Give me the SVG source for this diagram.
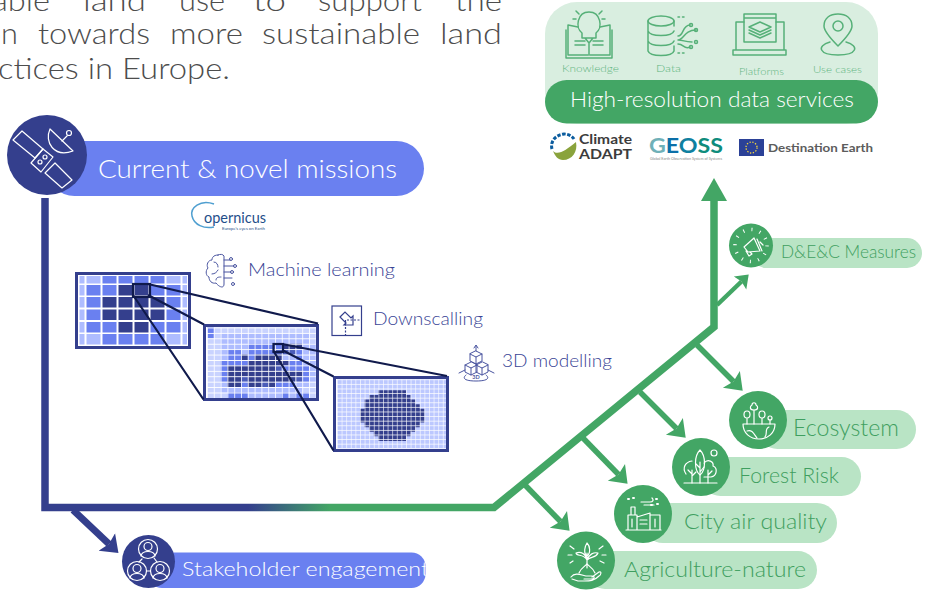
<svg xmlns="http://www.w3.org/2000/svg" width="931" height="590" viewBox="0 0 931 590">
<style>
text{font-family:"Lato","Liberation Sans",sans-serif;font-weight:300}
.body{font-size:29px;fill:#4d4d4d}
.blue{fill:#343f8d}.mid{fill:#6a80f0}.lite{fill:#b9e4c5}.grn{fill:#43a665}
.wt{fill:#fff}.gt{fill:#3f9f60}.bt{fill:#3a4596;font-size:18px}
.ws{fill:none;stroke:#fff;stroke-width:1.200;stroke-linecap:round;stroke-linejoin:round}
.gs{fill:none;stroke:#56b078;stroke-width:1.500;stroke-linecap:round;stroke-linejoin:round}
.bs{fill:none;stroke:#4a55a0;stroke-width:1;stroke-linecap:round;stroke-linejoin:round}
.tl{font-size:10.500px;fill:#5fb580}
.frame{fill:none;stroke:#343f8d;stroke-width:3}
.zoom{fill:none;stroke:#101a4c;stroke-width:2.200}
.cd{fill:#343f8d}.cm{fill:#6a80f0}.cl{fill:#aebcff}.cx{fill:#4b5cb8}.cp{fill:#c9d3ff}
</style>
<defs>
<linearGradient id="trunk" gradientUnits="userSpaceOnUse" x1="248" y1="0" x2="330" y2="0"><stop offset="0" stop-color="#343f8d"/><stop offset="1" stop-color="#43a665"/></linearGradient>
<marker id="hg" markerUnits="userSpaceOnUse" markerWidth="20" markerHeight="26" viewBox="0 -13 20 26" refX="3" refY="0" orient="auto"><path d="M0,-12 L16,0 L0,12 L3,0z" fill="#43a665"/></marker>
<marker id="hs" markerUnits="userSpaceOnUse" markerWidth="16" markerHeight="20" viewBox="0 -10 16 20" refX="2" refY="0" orient="auto"><path d="M0,-9 L12,0 L0,9 L2,0z" fill="#43a665"/></marker>
<marker id="hb" markerUnits="userSpaceOnUse" markerWidth="20" markerHeight="26" viewBox="0 -13 20 26" refX="3" refY="0" orient="auto"><path d="M0,-12 L16,0 L0,12 L3,0z" fill="#343f8d"/></marker>
<pattern id="g2" patternUnits="userSpaceOnUse" x="207" y="327.500" width="6.800" height="5.420"><path d="M0,0H6.800M0,0V5.420" stroke="#fff" stroke-width="1.600" fill="none"/></pattern>
<pattern id="g3" patternUnits="userSpaceOnUse" x="337" y="379.300" width="4.600" height="4.600"><path d="M0,0H4.600M0,0V4.600" stroke="#fff" stroke-width="1.200" fill="none"/></pattern>
<clipPath id="stk"><rect x="150" y="552" width="275.500" height="37"/></clipPath>
</defs>

<g id="intro-text">
<text class="body" x="-8" y="11" textLength="58" lengthAdjust="spacingAndGlyphs">able</text>
<text class="body" x="83" y="11" textLength="63" lengthAdjust="spacingAndGlyphs">land</text>
<text class="body" x="179" y="11" textLength="46" lengthAdjust="spacingAndGlyphs">use</text>
<text class="body" x="253" y="11" textLength="33" lengthAdjust="spacingAndGlyphs">to</text>
<text class="body" x="318" y="11" textLength="104" lengthAdjust="spacingAndGlyphs">support</text>
<text class="body" x="455" y="11" textLength="47" lengthAdjust="spacingAndGlyphs">the</text>
<text class="body" x="-16" y="43.500" textLength="34" lengthAdjust="spacingAndGlyphs">on</text>
<text class="body" x="38" y="43.500" textLength="112" lengthAdjust="spacingAndGlyphs">towards</text>
<text class="body" x="170" y="43.500" textLength="73" lengthAdjust="spacingAndGlyphs">more</text>
<text class="body" x="262" y="43.500" textLength="158" lengthAdjust="spacingAndGlyphs">sustainable</text>
<text class="body" x="440" y="43.500" textLength="62" lengthAdjust="spacingAndGlyphs">land</text>
<text class="body" x="-2" y="78.500" textLength="232" lengthAdjust="spacingAndGlyphs">ctices in Europe.</text>
</g>

<g id="connectors">
<path d="M45,198V507.500H494L714,327V200" fill="none" stroke="url(#trunk)" stroke-width="7.500"/>
<polygon points="714,178 727,201 701,201" class="grn"/>
<path d="M73,510L109,544" fill="none" stroke="#343f8d" stroke-width="7" marker-end="url(#hb)"/>
<path d="M525,485L560.500,521.500" fill="none" stroke="#43a665" stroke-width="5.500" marker-end="url(#hg)"/>
<path d="M582,437L618.500,474.500" fill="none" stroke="#43a665" stroke-width="5.500" marker-end="url(#hg)"/>
<path d="M640,392L676.500,428.500" fill="none" stroke="#43a665" stroke-width="5.500" marker-end="url(#hg)"/>
<path d="M697,345L733.500,381.500" fill="none" stroke="#43a665" stroke-width="5.500" marker-end="url(#hg)"/>
<path d="M717,305L741.500,281.500" fill="none" stroke="#43a665" stroke-width="4.500" marker-end="url(#hs)"/>
</g>

<g id="node-missions">
<rect x="47" y="141" width="377" height="55" rx="27.500" class="mid"/>
<circle cx="47" cy="155" r="40" class="blue"/>
<g class="ws">
<path d="M13,140L22,131L43,149L35,158Z"/>
<path d="M31,163L43,149L53,157L41,172Z"/>
<path d="M45,173L55,163L72,180L62,188Z"/>
<path d="M50,129C44,142 54,158 73,151Z"/>
<path d="M62,141L67,136"/><circle cx="69" cy="133" r="2.500"/>
<circle cx="40" cy="162" r="2"/><circle cx="45" cy="157" r="2"/>
</g>
<text x="98" y="178" class="wt" font-size="26" textLength="299" lengthAdjust="spacingAndGlyphs">Current &amp; novel missions</text>
</g>

<g id="logo-copernicus">
<path d="M214,204C200,199 190,208 192,216C194,225 204,229 214,227" fill="none" stroke="#4f9fd0" stroke-width="1.500"/>
<text x="204" y="223" font-size="15" fill="#1f4f8a" style="font-weight:400" textLength="62" lengthAdjust="spacingAndGlyphs">opernicus</text>
<text x="222" y="230" font-size="4" fill="#1f4f8a" style="font-weight:400" textLength="43" lengthAdjust="spacingAndGlyphs">Europe's eyes on Earth</text>
</g>

<g id="node-ml">
<g class="bs">
<path d="M218,255C213,255 212,258 212,260C208,260 206,265 208,268C205,271 206,276 209,277C209,281 212,284 216,283C219,287 224,289 224,284V256C223,254 220,254 218,255Z"/>
<path d="M224,260H230M224,266H234M224,272H231M224,278H232M214,262C217,262 218,265 218,267M212,274C215,274 217,272 218,270M216,280C216,277 219,277 221,277"/>
<circle cx="231" cy="259" r="1.500"/><circle cx="235" cy="266" r="1.500"/><circle cx="232" cy="272" r="1.500"/><circle cx="233" cy="284" r="1.500"/>
</g>
<text x="248" y="276" class="bt" textLength="147" lengthAdjust="spacingAndGlyphs">Machine learning</text>
</g>

<g id="node-downscaling">
<rect x="332" y="306" width="29.500" height="29.500" fill="none" stroke="#343f8d" stroke-width="1.200"/>
<path d="M345.500,336V320H361" fill="none" stroke="#343f8d" stroke-width="1.200" stroke-dasharray="2 1.500"/>
<path d="M340,317L345,312L351,318L353,316V325H344L346,323Z" fill="none" stroke="#343f8d" stroke-width="1.200"/>
<text x="373" y="325" class="bt" textLength="110" lengthAdjust="spacingAndGlyphs">Downscalling</text>
</g>

<g id="node-3d">
<g class="bs">
<path d="M476,351V346M474,348L476,345L478,348"/>
<path d="M476,351L482,354V361L476,364L470,361V354ZM470,354L476,357L482,354M476,357V364"/>
<path d="M471,362L465,365V372L471,375L477,372V365ZM465,365L471,368L477,365M471,368V375"/>
<path d="M482,362L476,365V372L482,375L488,372V365ZM476,365L482,368L488,365M482,368V375"/>
<path d="M465,370L459,373M488,370L494,373M466,375C462,378 464,381 476,381C488,381 490,378 486,375"/>
</g>
<text x="476" y="379" font-size="5.500" fill="#4a55a0" text-anchor="middle" style="font-weight:700">3D</text>
<text x="502" y="367" class="bt" textLength="110" lengthAdjust="spacingAndGlyphs">3D modelling</text>
</g>

<g id="grids">
<rect x="76.500" y="273.500" width="113" height="74" fill="#fff"/>
<g class="cl"><rect x="79.500" y="276" width="5" height="7.500"/><rect x="86.500" y="276" width="14" height="7.500"/><rect x="166.500" y="276" width="14" height="7.500"/><rect x="182.500" y="276" width="4.500" height="7.500"/><rect x="79.500" y="285" width="5" height="10.500"/><rect x="182.500" y="285" width="4.500" height="10.500"/><rect x="79.500" y="297" width="5" height="10.500"/><rect x="182.500" y="297" width="4.500" height="10.500"/><rect x="79.500" y="309.500" width="5" height="10.500"/><rect x="182.500" y="309.500" width="4.500" height="10.500"/><rect x="79.500" y="322" width="5" height="10.500"/><rect x="182.500" y="322" width="4.500" height="10.500"/><rect x="79.500" y="334" width="5" height="10.500"/><rect x="86.500" y="334" width="14" height="10.500"/><rect x="166.500" y="334" width="14" height="10.500"/><rect x="182.500" y="334" width="4.500" height="10.500"/></g>
<g class="cm"><rect x="102.500" y="276" width="14" height="7.500"/><rect x="118.500" y="276" width="14" height="7.500"/><rect x="134.500" y="276" width="14" height="7.500"/><rect x="150.500" y="276" width="14" height="7.500"/>
<rect x="86.500" y="285" width="14" height="10.500"/><rect x="102.500" y="285" width="14" height="10.500"/><rect x="150.500" y="285" width="14" height="10.500"/><rect x="166.500" y="285" width="14" height="10.500"/>
<rect x="86.500" y="297" width="14" height="10.500"/><rect x="166.500" y="297" width="14" height="10.500"/><rect x="86.500" y="309.500" width="14" height="10.500"/><rect x="166.500" y="309.500" width="14" height="10.500"/>
<rect x="86.500" y="322" width="14" height="10.500"/><rect x="102.500" y="322" width="14" height="10.500"/><rect x="150.500" y="322" width="14" height="10.500"/><rect x="166.500" y="322" width="14" height="10.500"/>
<rect x="102.500" y="334" width="14" height="10.500"/><rect x="118.500" y="334" width="14" height="10.500"/><rect x="134.500" y="334" width="14" height="10.500"/><rect x="150.500" y="334" width="14" height="10.500"/></g>
<g class="cd"><rect x="118.500" y="285" width="14" height="10.500"/><rect x="134.500" y="285" width="14" height="10.500"/>
<rect x="102.500" y="297" width="14" height="10.500"/><rect x="118.500" y="297" width="14" height="10.500"/><rect x="134.500" y="297" width="14" height="10.500"/><rect x="150.500" y="297" width="14" height="10.500"/>
<rect x="102.500" y="309.500" width="14" height="10.500"/><rect x="118.500" y="309.500" width="14" height="10.500"/><rect x="134.500" y="309.500" width="14" height="10.500"/><rect x="150.500" y="309.500" width="14" height="10.500"/>
<rect x="118.500" y="322" width="14" height="10.500"/><rect x="134.500" y="322" width="14" height="10.500"/></g>
<rect x="76.500" y="273.500" width="113" height="74" class="frame"/>

<rect x="204.500" y="325.500" width="113" height="74" fill="#fff"/>
<g transform="translate(207,327.500) scale(6.8,5.42)">
<rect x="0" y="0" width="16" height="13" class="cp"/>
<path class="cl" d="M2,1h13v2h-13zM2,3h14v1h-14zM2,4h14v2h-14zM14,6h2v1h-2zM15,7h1v3h-1zM2,10h13v1h-13zM2,11h12v1h-12zM6,12h3v1h-3zM9,12h5v1h-5z"/>
<path class="cm" d="M0,0h1v2h-1zM6,3h5v1h-5zM3,4h2v2h-2zM6,4h4v1h-4zM6,5h1v1h-1zM13,4h1v2h-1zM2,6h3v1h-3zM5,6h1v1h-1zM12,6h2v1h-2zM2,7h1v3h-1zM11,7h4v1h-4zM14,8h1v2h-1zM5,10h1v1h-1zM10,10h3v1h-3zM3,12h3v1h-3zM11,12h1v1h-1zM13,12h2v1h-2z"/>
<path class="cx" d="M10,4h3v1h-3zM10,7h1v1h-1zM5,9h1v1h-1zM13,9h1v1h-1zM8,10h1v1h-1z"/>
<path class="cd" d="M11,3h3v1h-3zM5,5h1v1h-1zM7,5h4v1h-4zM6,6h6v1h-6zM3,7h7v1h-7zM3,8h11v1h-11zM3,9h2v1h-2zM6,9h7v1h-7zM3,10h2v1h-2zM6,10h2v1h-2zM9,10h1v1h-1z"/>
</g>
<rect x="207" y="327.500" width="109" height="70.500" fill="url(#g2)"/>
<rect x="204.500" y="325.500" width="113" height="74" class="frame"/>

<rect x="334.500" y="377.500" width="113" height="73" fill="#fff"/>
<g transform="translate(337,379.300) scale(4.6,4.6)">
<rect x="0" y="0" width="24" height="15" fill="#bcc8ff"/>
<path class="cd" d="M9,2.400h6v1h-6zM7,3.400h9v1h-9zM6,4.400h11v1h-11zM6,5.400h12v1h-12zM5,6.400h14v3h-14zM6,9.400h12v1h-12zM7,10.400h10v1h-10zM8,11.400h8v1h-8zM9,12.400h6v1h-6z"/>
</g>
<rect x="337" y="379.300" width="110" height="69" fill="url(#g3)"/>
<rect x="334.500" y="377.500" width="113" height="73" class="frame"/>

<rect x="133" y="284" width="17" height="13" class="zoom"/>
<rect x="273.500" y="344" width="9.500" height="8" class="zoom"/>
<path class="zoom" d="M148,284L318,323.500M148,295L204,324.500M133,295L203.500,399.500"/>
<path class="zoom" d="M282,344L447,376M282,350L333.500,376.500M273.500,351L333.500,450.500"/>
</g>

<g id="node-services">
<rect x="545" y="2" width="333" height="122" rx="32" fill="#d9eee0"/>
<rect x="545" y="80" width="333" height="43.500" rx="21.700" class="grn"/>
<text x="570" y="107" class="wt" font-size="22" textLength="284" lengthAdjust="spacingAndGlyphs">High-resolution data services</text>
<g class="gs">
<path d="M568,25V55H588M610,25V55H590M566,30V58H612V30M568,25L578,27M610,25L600,27"/>
<path d="M582,33C575,28 577,12 589,12C601,12 603,28 596,33V38H582ZM585,38L589,43L593,38M589,43V55"/>
<path d="M575,41H585M575,45H585M593,41H603M593,45H603M576,11L579,14M602,11L599,14M573,19H576M605,19H602"/>
<ellipse cx="661" cy="21" rx="13" ry="5"/>
<path d="M648,21V51C650,57 672,57 674,51V46M648,31C650,37 672,37 674,31M648,41C650,47 672,47 674,41M674,21V26"/>
<path d="M678,36C684,36 682,25 690,25M678,40C684,40 684,30 696,30M678,44C684,44 684,50 690,47M678,40C684,40 684,42 692,42"/>
<circle cx="691" cy="25" r="1.500"/><circle cx="696" cy="30" r="1.500"/><circle cx="696" cy="42" r="1.500"/><circle cx="691" cy="47" r="1.500"/>
<path d="M678,17H686M678,53H686" stroke-dasharray="1.500 3"/>
<path d="M744,22H736V50H784V22H776M733,50H786V55H733Z"/>
<path d="M744,14H776V42H744ZM744,18H776"/>
<path d="M760,22L771,27L760,32L749,27ZM749,30L760,35L771,30M749,33L760,38L771,33"/>
<path d="M838,46C826,34 824,28 824,26C824,18 830,14 838,14C846,14 852,18 852,26C852,28 850,34 838,46Z"/>
<circle cx="838" cy="26" r="5"/>
<path d="M830,42C816,46 819,55 838,55C857,55 860,46 846,42"/>
</g>
<text x="562" y="72" class="tl" textLength="57" lengthAdjust="spacingAndGlyphs">Knowledge</text>
<text x="656" y="72" class="tl" textLength="25" lengthAdjust="spacingAndGlyphs">Data</text>
<text x="739" y="75" class="tl" textLength="45" lengthAdjust="spacingAndGlyphs">Platforms</text>
<text x="813" y="73" class="tl" textLength="49" lengthAdjust="spacingAndGlyphs">Use cases</text>
</g>

<g id="logo-climate-adapt">
<path d="M553,151C558,156 566,150 576,142C578,152 572,160 563,160C558,160 555,156 553,151Z" fill="#8aa33c"/>
<path d="M552,149C550,142 555,135 564,134C568,134 572,136 574,139" fill="none" stroke="#0b5c9e" stroke-width="3" stroke-dasharray="3.500 1.500"/>
<text x="579" y="144" font-size="13" fill="#3c3c3c" style="font-weight:700" textLength="53" lengthAdjust="spacingAndGlyphs">Climate</text>
<text x="579" y="158.500" font-size="14" fill="#3c3c3c" style="font-weight:700" textLength="53" lengthAdjust="spacingAndGlyphs">ADAPT</text>
</g>
<g id="logo-geoss">
<text x="649" y="153" font-size="21" style="font-weight:700" textLength="74" lengthAdjust="spacingAndGlyphs"><tspan fill="#6fb0b8">G</tspan><tspan fill="#0b6fa8">E</tspan><tspan fill="#0f80a0">O</tspan><tspan fill="#0e8c7c">SS</tspan></text>
<text x="650" y="159.500" font-size="3.500" fill="#888" style="font-weight:400" textLength="72" lengthAdjust="spacingAndGlyphs">Global Earth Observation System of Systems</text>
</g>
<g id="logo-destination-earth">
<rect x="739" y="139" width="25" height="17" fill="#2b4197"/>
<circle cx="751.500" cy="147.500" r="5.500" fill="none" stroke="#f5d53c" stroke-width="1.300" stroke-dasharray="1.300 1.600"/>
<text x="768" y="152" font-size="12" fill="#5c5c5c" style="font-weight:700" textLength="105" lengthAdjust="spacingAndGlyphs">Destination Earth</text>
</g>

<g id="node-dec">
<rect x="751" y="238" width="171" height="30" rx="15" class="lite"/>
<circle cx="751" cy="245.500" r="22" class="grn"/>
<circle cx="751" cy="245.500" r="16" fill="none" stroke="#fff" stroke-width="3.500" stroke-dasharray="1 7.380"/>
<path class="ws" d="M744,247L754,238L760,251L748,252ZM746,251L749,256L752,254L750,252M757,239L762,251M760,242L763,245"/>
<text x="781" y="258" class="gt" font-size="17" textLength="135" lengthAdjust="spacingAndGlyphs">D&amp;E&amp;C Measures</text>
</g>

<g id="node-ecosystem">
<rect x="758" y="410" width="158" height="39" rx="19.500" class="lite"/>
<circle cx="758" cy="420" r="29" class="grn"/>
<g class="ws">
<path d="M743,424H775C775,433 768,439 759,439C750,439 743,433 743,424Z"/>
<path d="M747,431C752,429 754,434 757,438M769,427C764,429 768,434 765,437"/>
<path d="M754,424V410M754,410C749,410 750,406 752,405C752,402 756,402 756,405C758,406 759,410 754,410Z"/>
<path d="M747,424V418M747,418C743,418 743,411 747,411C751,411 751,418 747,418ZM762,424V418M762,418C758,418 758,411 762,411C766,411 766,418 762,418Z"/>
<path d="M770,424V420"/><circle cx="770" cy="418" r="2"/>
</g>
<text x="793" y="436" class="gt" font-size="23" textLength="106" lengthAdjust="spacingAndGlyphs">Ecosystem</text>
</g>

<g id="node-forest">
<rect x="701" y="457" width="160" height="39" rx="19.500" class="lite"/>
<circle cx="701" cy="467" r="29" class="grn"/>
<g class="ws">
<path d="M684,483H717"/>
<path d="M692,483V470M692,474L688,470M692,476L696,472M700,483V462M700,468L696,464M700,472L704,467M708,483V470M708,475L712,471"/>
<path d="M686,474C682,468 685,462 692,461M700,450C694,456 694,470 700,475C706,470 706,456 700,450ZM704,463C708,458 714,462 713,466C718,468 717,476 711,477H704"/>
<circle cx="714" cy="453" r="3"/>
</g>
<text x="739" y="483" class="gt" font-size="22" textLength="100" lengthAdjust="spacingAndGlyphs">Forest Risk</text>
</g>

<g id="node-city">
<rect x="643" y="503" width="194" height="40" rx="20" class="lite"/>
<circle cx="643" cy="514" r="29" class="grn"/>
<g class="ws">
<path d="M628,530V515H637V530ZM637,530V517L650,513V530ZM650,530V515H660V530ZM626,530H661M631,515V507H635V515"/>
<path d="M640,520H647M640,524H647M632,519V527M655,519V527M641,502H650C653,502 654,500 652,498M644,505H654"/>
<path d="M628,499H629M633,498H634M656,499H657M651,505H652M657,504H658" stroke-width="2"/>
</g>
<text x="684" y="528.500" class="gt" font-size="22" textLength="143" lengthAdjust="spacingAndGlyphs">City air quality</text>
</g>

<g id="node-agriculture">
<rect x="586" y="551" width="231" height="38" rx="19" class="lite"/>
<circle cx="586" cy="560.500" r="29" class="grn"/>
<g class="ws">
<path d="M571,577C575,572 581,575 586,576H592C595,576 595,579 591,579H584M592,577L599,572C602,571 601,575 599,576C594,581 590,581 584,581H578L572,579"/>
<path d="M579,573C581,568 585,566 587,564C589,566 593,568 595,573"/>
<path d="M587,568V553M587,556C583,553 585,546 587,543C590,546 591,553 587,556ZM587,560C583,553 577,557 576,553C581,551 586,554 587,560ZM587,560C589,554 594,552 598,553C596,558 591,556 587,560Z"/>
<path d="M570,546L574,549M568,555H572M570,563L573,561M603,546L599,549M606,555H602M604,563L600,561"/>
</g>
<text x="624" y="576.500" class="gt" font-size="22" textLength="182" lengthAdjust="spacingAndGlyphs">Agriculture-nature</text>
</g>

<g id="node-stakeholder">
<rect x="148" y="552.500" width="277.500" height="35.500" rx="14" class="mid"/>
<circle cx="148.500" cy="561.500" r="26.500" class="blue"/>
<g class="ws">
<circle cx="148" cy="549" r="9.500"/><circle cx="148" cy="546.500" r="4"/><path d="M141,556C142,550 154,550 155,556"/>
<circle cx="137" cy="571" r="9.500"/><circle cx="137" cy="568.500" r="4"/><path d="M130,578C131,572 143,572 144,578"/>
<circle cx="160" cy="571" r="9.500"/><circle cx="160" cy="568.500" r="4"/><path d="M153,578C154,572 166,572 167,578"/>
<path d="M146.500,571H150.500M142,559L139,562M154,558L157,562"/>
</g>
<text x="182" y="576" class="wt" font-size="19" textLength="247" lengthAdjust="spacingAndGlyphs" clip-path="url(#stk)">Stakeholder engagement</text>
</g>
</svg>
